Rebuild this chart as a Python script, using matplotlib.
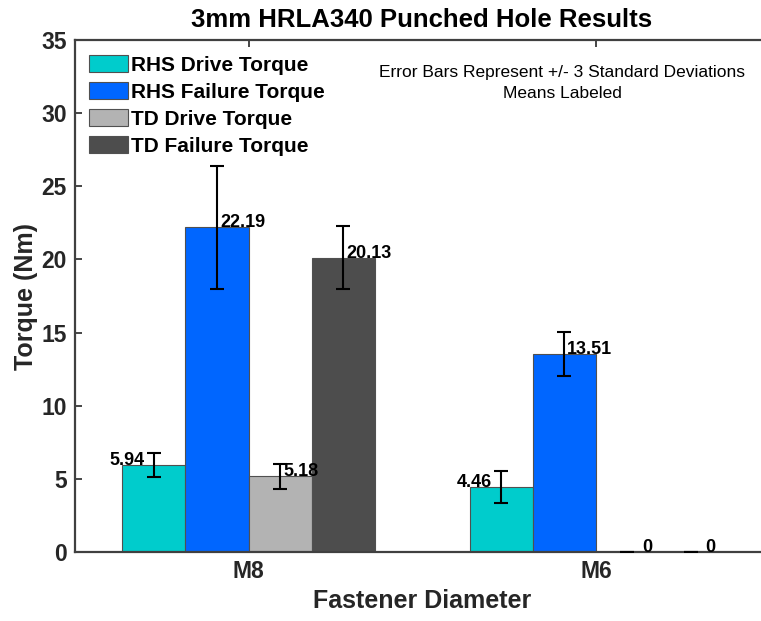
import matplotlib
matplotlib.use("Agg")
import matplotlib.pyplot as plt
import numpy as np

plt.rcParams['font.family'] = ['Liberation Sans', 'DejaVu Sans']

categories = ['M8', 'M6']
series_names = ['RHS Drive Torque', 'RHS Failure Torque', 'TD Drive Torque', 'TD Failure Torque']
rhs_drive = [5.94, 4.46]
rhs_failure = [22.19, 13.51]
td_drive = [5.18, 0.0]
td_failure = [20.13, 0.0]
rhs_drive_err = [0.8, 1.1]
rhs_failure_err = [4.2, 1.5]
td_drive_err = [0.85, 0.0]
td_failure_err = [2.15, 0.0]
y_ticks = [0, 5, 10, 15, 20, 25, 30, 35]

values = [rhs_drive, rhs_failure, td_drive, td_failure]
errors = [rhs_drive_err, rhs_failure_err, td_drive_err, td_failure_err]
colors = ['#00CCCC', '#0066FF', '#B3B3B3', '#4D4D4D']

W, H = 761, 621
fig = plt.figure(figsize=(W / 100, H / 100), dpi=100)
ax = fig.add_axes([75 / W, 1 - 552 / H, (769.5 - 75) / W, (552 - 40) / H])

x = np.arange(1, len(categories) + 1)
n = len(values)
group_w = min(0.8, n / (n + 1.5))
bw = group_w / n

for i, (vals, errs, c, name) in enumerate(zip(values, errors, colors, series_names)):
    xs = x - group_w / 2 + bw * (i + 0.5)
    ax.bar(xs, vals, width=bw, color=c, edgecolor='#505050', linewidth=0.8,
           label=name, zorder=2)
    ax.errorbar(xs, vals, yerr=errs, fmt='none', ecolor='black', elinewidth=1.5,
                capsize=4.7, capthick=1.5, zorder=3)
    for xv, v in zip(xs, vals):
        txt = f'{v:.2f}' if v != 0 else '0'
        if i == 0:
            dx, ha = -9, 'right'
        elif v == 0:
            dx, ha = 15, 'left'
        else:
            dx, ha = 3, 'left'
        ax.annotate(txt, (xv, v), xytext=(dx, 0), textcoords='offset pixels',
                    ha=ha, va='baseline', fontsize=13, fontweight='bold', zorder=4)

ax.set_xlim(0.5, 2.5)
ax.set_ylim(0, 35)
ax.set_xticks(x)
ax.set_xticklabels(categories)
ax.set_yticks(y_ticks)
ax.tick_params(direction='in', length=5, width=1.2, top=True, right=True,
               labelsize=16.5, colors='#262626', pad=6)
for lbl in ax.get_xticklabels() + ax.get_yticklabels():
    lbl.set_fontweight('bold')
    lbl.set_color('#262626')
for s in ax.spines.values():
    s.set_linewidth(1.6)
    s.set_color('#404040')

ax.set_ylabel('Torque (Nm)', fontsize=18, fontweight='bold', color='#262626', labelpad=2)
ax.set_xlabel('Fastener Diameter', fontsize=18, fontweight='bold', color='#262626', labelpad=4)
fig.text(422 / W, 1 - 20 / H, '3mm HRLA340 Punched Hole Results', ha='center', va='center',
         fontsize=18.5, fontweight='bold', color='black')

leg = ax.legend(loc='upper left', bbox_to_anchor=(89 / W, 1 - 55 / H),
                bbox_transform=fig.transFigure,
                frameon=False, prop={'weight': 'bold', 'size': 15}, handlelength=1.875,
                handleheight=0.9, handletextpad=0.12, labelspacing=0.34,
                borderpad=0, borderaxespad=0)
for p in leg.get_patches():
    p.set_edgecolor('#505050')

fig.text(562 / W, 1 - 73 / H, 'Error Bars Represent +/- 3 Standard Deviations', ha='center',
         va='center', fontsize=12.5, color='black')
fig.text(562 / W, 1 - 94 / H, 'Means Labeled', ha='center', va='center', fontsize=12.5,
         color='black')

fig.savefig('out.png', dpi=100)
